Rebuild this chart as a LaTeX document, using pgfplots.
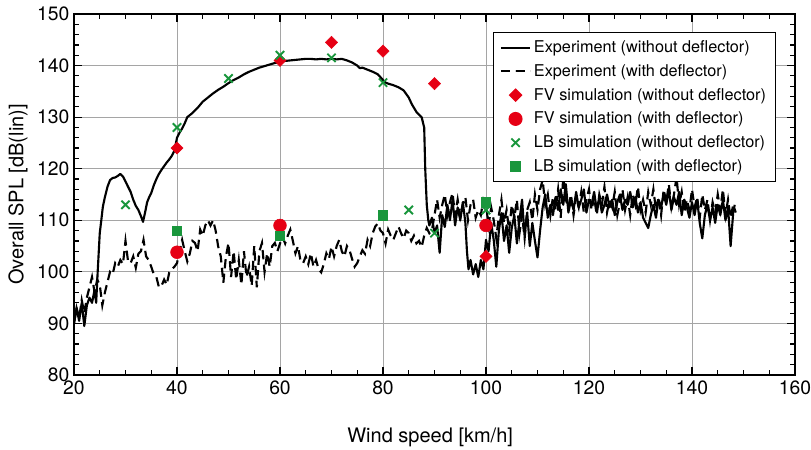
\documentclass[border=0pt]{standalone}
\usepackage{pgfplots}
\pgfplotsset{compat=1.18}
\usepackage{fontspec}
\setmainfont{TeX Gyre Heros}
\definecolor{myred}{RGB}{230,0,20}
\definecolor{mygreen}{RGB}{25,150,60}
\definecolor{gridgray}{RGB}{165,165,165}
\begin{document}
\begin{tikzpicture}
\useasboundingbox (-55.5pt,-56.25pt) rectangle (552.75pt,281.25pt);
\begin{axis}[
  scale only axis,
  width=540.75pt, height=270.75pt,
  xmin=20, xmax=160, ymin=80, ymax=150,
  xtick={20,40,...,160}, ytick={80,90,...,150},
  minor x tick num=3, minor y tick num=4,
  tick align=inside,
  major tick length=6pt, minor tick length=4pt,
  tick style={black, line width=0.9pt},
  axis line style={line width=1pt},
  grid=major,
  major grid style={gridgray, line width=0.7pt},
  /pgf/number format/assume math mode=true,
  tick label style={font=\fontsize{14.5}{17}\selectfont},
  xticklabel style={yshift=-1pt},
  label style={font=\fontsize{15}{18}\selectfont},
  xlabel={Wind speed [km/h]},
  ylabel={Overall SPL [dB(lin)]},
  xlabel style={at={(axis description cs:0.494,0)}, anchor=center, yshift=-46.5pt},
  ylabel style={at={(axis description cs:0,0.5)}, anchor=center, rotate=0, yshift=42pt},
  legend image code/.code={\draw[mark repeat=2,mark phase=2,#1] plot coordinates {(0pt,0pt) (11pt,0pt) (22pt,0pt)};},
  legend style={at={(0.9736,0.950)}, anchor=north east, draw=black, line width=0.9pt,
    font=\fontsize{12.2}{14}\selectfont, row sep=3.4pt, inner xsep=5pt, inner ysep=4pt,
    cells={anchor=west}},
  legend cell align=left,
]
\addplot[black, line width=1.6pt, line join=round] coordinates {
(20,90) (20.5,93) (21,90.5) (21.5,94) (22,89.5) (22.5,93.5) (23,95) (23.5,94) (24,96.5) (24.3,94) (24.6,100)
(25,107.5) (25.3,110) (25.6,112.6) (26,114.5) (26.5,116.5) (27,117.8) (27.5,118.2) (28,118.3) (28.5,118.6)
(29,119) (29.5,118.5) (30,117.5) (30.5,116.5) (31,115.5) (31.5,114) (32,112.8) (32.5,112) (33,110.8) (33.4,109.7)
(33.8,111.5) (34.2,113.5) (34.6,114.5) (35,115.3) (35.5,116.8) (36,118) (36.5,119) (37,119.8) (37.5,120.5)
(38,121.2) (38.5,121.8) (39,122.5) (39.5,123.5) (40,126) (40.5,127) (41,127.8) (41.5,128.8) (42,130)
(43,130.8) (44,131.8) (45,133) (46,133.8) (47,134.6) (48,135.3) (49,135.9) (50,136.6) (51,137.2) (52,137.7)
(53,138.3) (54,138.8) (55,139.2) (56,139.6) (57,139.9) (58,140.2) (59,140.5) (60,140.7) (61,140.9) (62,141)
(63,141.1) (64,141.2) (65,141.3) (66,141.3) (67,141.2) (68,141.3) (69,141.2) (70,141.3) (71,141.2) (72,141.3)
(73,141) (74,140.6) (75,140) (75.5,139.5) (76,139.6) (77,139.2) (78,138.8) (79,138.3) (80,137.2) (80.5,136.7)
(81,136.5) (82,136.2) (83,135.8) (84,135.2) (85,133.8) (85.6,132.5) (86.5,131) (87.5,130) (88,128) (88.2,120)
(88.5,113) (88.8,110) (89,109) (89.5,110.5) (90,107.5) (90.5,109) (91,103.7) (91.5,111) (92,108.7) (92.5,113)
(93,110) (93.5,114) (94,109) (94.5,112.5) (95,110) (95.5,113.5) (96,109.5) (96.3,104) (96.6,100.5) (97,102.3)
(97.5,99.5) (98,101.5) (98.5,99) (99,102.3) (99.5,100.5) (100,106.2) (100.5,104) (101,109.5) (101.5,106.2)
(102,101) (102.5,108) (103,111.4) (103.5,106) (104,109) (104.5,103.7) (105,108.5) (105.5,111) (106,105.5)
(106.5,110) (107,114) (107.5,107) (108,111.5) (108.5,105) (109,109.5) (109.5,106) (110,102.8) (110.5,108)
(111,112.5) (111.5,115) (112,110.5) (112.5,113) (113,111) (113.5,114.5) (114,112) (114.5,116) (115,113)
(115.5,117) (116,111.5) (116.5,114) (117,112) (117.5,115.5) (118,112.5) (118.5,114) (119,116) (119.5,111.5)
(120,114) (120.5,113) (121,115.5) (121.5,112) (122,114.5) (122.5,111.5) (123,113) (123.5,115) (124,112.5)
(124.5,114) (125,111) (125.5,113.5) (126,115) (126.5,112) (127,114) (127.5,113) (128,115.5) (128.5,112.5)
(129,114.5) (129.5,111.5) (130,113.5) (130.5,110.5) (131,109.5) (131.5,108.5) (132,111) (132.5,113) (133,110.5)
(133.5,114) (134,112.5) (134.5,115) (135,113) (135.5,116) (136,112) (136.5,114.5) (137,113) (137.5,115.5)
(138,111) (138.5,114) (139,112.5) (139.5,110.5) (140,113.5) (140.5,111) (141,114) (141.5,109.5) (142,106.5)
(142.5,111) (143,113) (143.5,110) (144,112.5) (144.5,109.5) (145,113) (145.5,111) (146,114) (146.5,110)
(147,112.5) (147.5,105) (148,111.5) (148.3,113)
};
\addlegendentry{Experiment (without deflector)}
\addplot[black, line width=1.6pt, dash pattern=on 7pt off 4pt] coordinates {
(20,90) (20.5,93) (21,91) (21.5,94.5) (22,92) (22.5,95) (23,97) (23.5,99) (24,96) (24.5,98.5) (25,97.5)
(25.5,93.5) (26,96) (26.5,98) (27,100) (27.5,99.5) (28,101.7) (28.5,101) (29,102.3) (29.5,101.5) (30,106)
(30.5,102) (31,101.7) (31.5,103) (32,100.8) (32.5,103.5) (33,104) (33.5,106.2) (34,103) (34.5,102.3) (35,101)
(35.5,99.5) (36,99) (36.5,97) (37,97.3) (37.5,98.5) (38,97.5) (38.5,99.9) (39,100.5) (39.5,101) (40,101.7)
(40.5,104) (41,106.2) (41.5,104) (42,102) (42.5,103.6) (43,106) (43.5,105.6) (44,104) (44.5,108.2) (45,107)
(45.5,109) (46,110) (46.5,109) (47,110) (47.5,108) (48,104.9) (48.5,103) (49,97.9) (49.5,103) (50,105.6)
(50.5,99) (51,104) (51.5,98.5) (52,102.3) (52.5,97.5) (53,104) (53.5,99) (54,101) (54.5,97.3) (55,105)
(55.5,97) (56,104) (56.5,105.6) (57,100) (57.5,103.6) (58,101) (58.5,105) (59,105.6) (59.5,104) (60,105.5)
(60.5,106.8) (61,105.5) (61.5,107) (62,108.2) (62.5,106) (63,103.6) (63.5,105) (64,102) (64.5,101.7) (65,103)
(65.5,101.5) (66,103.6) (66.5,101) (67,102.3) (67.5,100.5) (68,99.9) (68.5,101.5) (69,103.6) (69.5,102.5)
(70,104.9) (70.5,103) (71,105) (71.5,106.2) (72,104) (72.5,103) (73,105) (73.5,104.2) (74,102.5) (74.5,101)
(75,101.7) (75.5,103) (76,104.2) (76.5,103.5) (77,106.2) (77.5,105) (78,107.5) (78.5,108.8) (79,109.4)
(79.5,108) (80,107.5) (80.5,105.5) (81,108.2) (81.5,107) (82,106.2) (82.5,107.5) (83,108.8) (83.5,107.5)
(84,106.5) (84.5,108) (85,107.5) (85.5,106) (86,107) (86.5,105.5) (87,106) (87.5,104.8) (88,107) (88.5,108.5)
(89,107.5) (89.5,108.1) (90,111) (90.5,114) (91,110.5) (91.5,113) (92,115) (92.5,111) (93,113.5) (93.5,115.3)
(94,111) (94.5,114) (95,110.7) (95.5,113) (96,114.5) (96.5,110) (97,113) (97.5,114) (98,110.5) (98.5,112)
(99,111) (99.5,114) (100,113) (100.5,109) (101,112.5) (101.5,110) (102,106.5) (102.5,111) (103,114)
(103.5,109.5) (104,112) (104.5,108) (105,113) (105.5,110.5) (106,114) (106.5,107.5) (107,111) (107.5,106.5)
(108,112) (108.5,113.5) (109,110) (109.5,115) (110,112) (110.5,116) (111,117.8) (111.5,113) (112,115)
(112.5,111) (113,114.5) (113.5,112) (114,116) (114.5,110.5) (115,118.4) (115.5,114) (116,112.5) (116.5,115)
(117,111) (117.5,114.5) (118,112.5) (118.5,115.5) (119,111.5) (119.5,114) (120,116) (120.5,112) (121,114.5)
(121.5,111) (122,115) (122.5,113) (123,116.5) (123.5,111.5) (124,114) (124.5,112.5) (125,115.5) (125.5,111)
(126,113.5) (126.5,116) (127,112) (127.5,114.5) (128,111) (128.5,115) (129,113) (129.5,116.5) (130,112)
(130.5,114) (131,111.5) (131.5,115.5) (132,113) (132.5,116) (133,112) (133.5,114.5) (134,111) (134.5,116)
(135,113.5) (135.5,117) (136,112.5) (136.5,115) (137,118.4) (137.5,113) (138,115.5) (138.5,111.5) (139,114)
(139.5,112) (140,116) (140.5,112.5) (141,114.5) (141.5,110.5) (142,115) (142.5,112) (143,114) (143.5,110)
(144,113.5) (144.5,111.5) (145,115) (145.5,112) (146,116) (146.5,111) (147,114) (147.5,110.5) (148,113)
(148.5,111.5)
};
\addlegendentry{Experiment (with deflector)}
\addplot[only marks, mark=square*, mark size=3.2pt, mark options={rotate=45, fill=myred, draw=myred}] coordinates {
(40,124) (60,141) (70,144.5) (80,142.8) (90,136.5) (100,103)
};
\addlegendentry{FV simulation (without deflector)}
\addplot[only marks, mark=*, mark size=4.8pt, mark options={fill=myred, draw=myred}] coordinates {
(40,103.8) (60,109) (100,109)
};
\addlegendentry{FV simulation (with deflector)}
\addplot[only marks, mark=x, mark size=4.4pt, mark options={draw=mygreen, line width=1.4pt}] coordinates {
(30,113) (40,128) (50,137.5) (60,142) (70,141.5) (80,136.7) (85,112) (90,107.5) (100,112)
};
\addlegendentry{LB simulation (without deflector)}
\addplot[only marks, mark=square*, mark size=3.5pt, mark options={fill=mygreen, draw=mygreen}] coordinates {
(40,108) (60,107) (80,111) (100,113.5)
};
\addlegendentry{LB simulation (with deflector)}
\end{axis}
\end{tikzpicture}
\end{document}
